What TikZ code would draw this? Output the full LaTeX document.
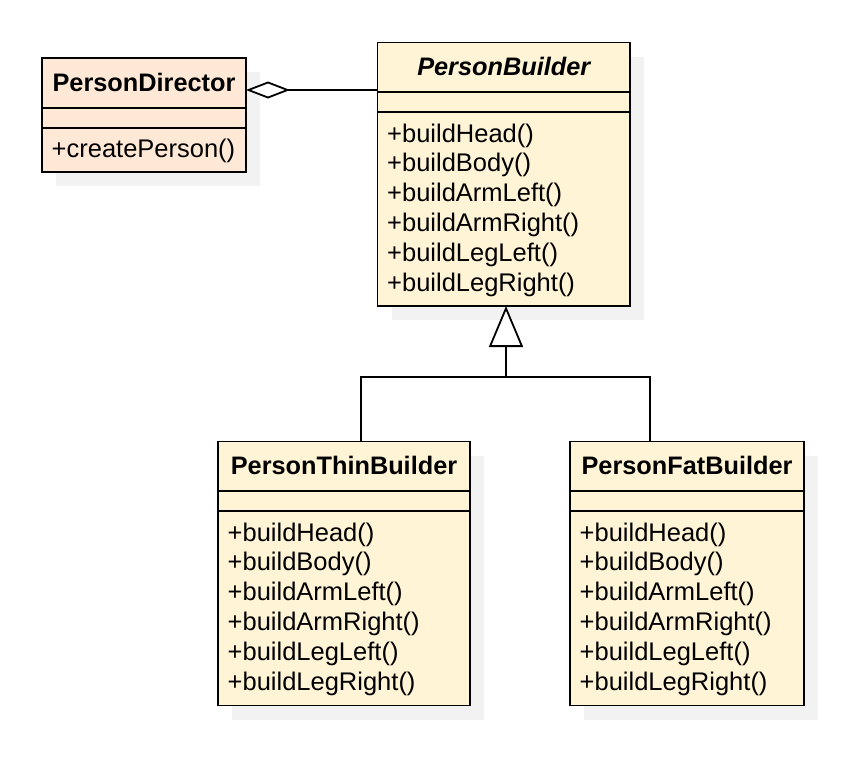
\documentclass[tikz,border=0pt]{standalone}
\usepackage{fontspec}
\setmainfont{Liberation Sans}
\usetikzlibrary{arrows.meta,shadows,calc}
\definecolor{classfill}{HTML}{FFF4D5}
\definecolor{dirfill}{HTML}{FFE9D6}
\definecolor{shadowgray}{HTML}{F2F2F2}
\tikzset{
  umlbox/.style={draw=black, line width=1.8pt, fill=classfill, anchor=north west,
    inner sep=0pt, outer sep=0pt,
    general shadow={fill=shadowgray, shadow xshift=14pt, shadow yshift=-14pt}},
  titletext/.style={font=\fontsize{25.3}{29}\selectfont\bfseries, anchor=base, inner sep=0pt},
  methtext/.style={font=\fontsize{25.5}{29}\selectfont, anchor=base west, inner sep=0pt},
  divider/.style={line width=1.8pt},
  conn/.style={line width=1.8pt},
}
\newcommand\umlclass[8]{%
  \node[umlbox, fill=#6, minimum width=#4pt, minimum height=#5pt] (#1) at (#2,#3) {};
  \node[titletext] (#1-title) at ($(#1.north)+(0,33)$) {#7};
  \draw[divider] ($(#1.north west)+(0,49.5)$) -- ($(#1.north east)+(0,49.5)$);
  \draw[divider] ($(#1.north west)+(0,69.5)$) -- ($(#1.north east)+(0,69.5)$);
  \foreach \m [count=\i] in {#8} {%
    \node[methtext] (#1-m\i) at ($(#1.north west)+(9.5,99.5+29.8*\i-29.8)$) {+\m()};}
}
\begin{document}
\begin{tikzpicture}[x=1pt, y=-1pt]
\useasboundingbox (0,0) rectangle (862,764);

\umlclass{director}{42}{58.3}{204}{113.4}{dirfill}{PersonDirector}{createPerson}
\umlclass{pb}{377.5}{42.5}{252.5}{263.5}{classfill}{\itshape PersonBuilder}%
  {buildHead,buildBody,buildArmLeft,buildArmRight,buildLegLeft,buildLegRight}
\umlclass{thin}{218}{441.5}{252}{264}{classfill}{PersonThinBuilder}%
  {buildHead,buildBody,buildArmLeft,buildArmRight,buildLegLeft,buildLegRight}
\umlclass{fat}{570}{441.5}{234}{264}{classfill}{PersonFatBuilder}%
  {buildHead,buildBody,buildArmLeft,buildArmRight,buildLegLeft,buildLegRight}

% aggregation
\coordinate (cy) at (0,90);
\draw[conn, {Diamond[open, fill=white, length=44pt, width=17pt]}-] (director.east |- cy) -- (pb.west |- cy);

% generalization
\coordinate (gj) at (506,377);
\draw[conn, -{Triangle[open, fill=white, length=41pt, width=34pt]}]
  ([xshift=17pt]thin.north) |- (gj) -- (gj |- pb.south);
\draw[conn] ([xshift=-37pt]fat.north) |- (gj);
\end{tikzpicture}
\end{document}
